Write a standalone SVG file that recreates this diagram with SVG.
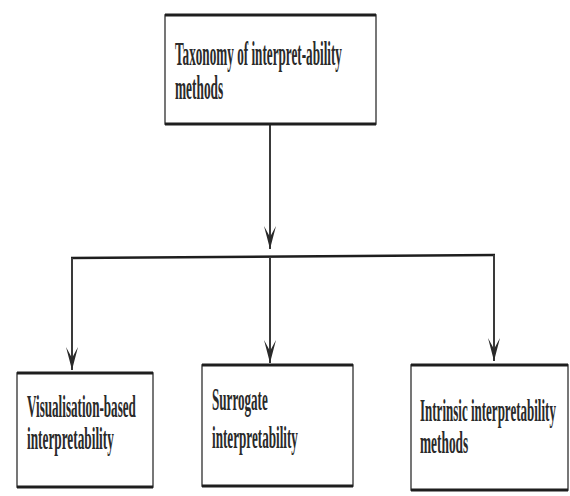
<svg xmlns="http://www.w3.org/2000/svg" width="570" height="496" viewBox="0 0 570 496">
<style>
.box{fill:#fff;stroke:#555;stroke-width:1.6}
.edge{stroke:#1e1e1e;stroke-width:3;fill:none}
.lbl{font-family:"Liberation Serif","Times New Roman",serif;font-weight:bold;fill:#2a2a2a}
.t{font-size:33px}
.b{font-size:32px}
.conn{stroke:#3a3a3a;stroke-width:2;fill:none}
.bar{stroke:#1e1e1e;stroke-width:2.6;fill:none}
</style>
<defs>
<marker id="arr" markerUnits="userSpaceOnUse" viewBox="-24 -8 26 16" markerWidth="26" markerHeight="16" refX="0" refY="0" orient="auto">
<path d="M0,0 L-23,-6 L-12,0 L-23,6 Z" fill="#2a2a2a"/>
</marker>
</defs>
<rect width="570" height="496" fill="#fff"/>
<g id="connectors">
<line class="conn" x1="270" y1="124" x2="270" y2="249" marker-end="url(#arr)"/>
<line class="bar" x1="71" y1="258" x2="495" y2="255"/>
<line class="conn" x1="72" y1="258" x2="72" y2="370" marker-end="url(#arr)"/>
<line class="conn" x1="270" y1="257" x2="270" y2="363" marker-end="url(#arr)"/>
<line class="conn" x1="494" y1="255" x2="494" y2="361" marker-end="url(#arr)"/>
</g>
<g id="taxonomy">
<rect class="box" x="165" y="15" width="211" height="109"/>
<line class="edge" x1="165" y1="15" x2="376" y2="15"/>
<line class="edge" x1="165" y1="124" x2="376" y2="124"/>
<text class="lbl t" transform="translate(175,65) scale(0.45,1)" textLength="371" lengthAdjust="spacingAndGlyphs">Taxonomy of interpret-ability</text>
<text class="lbl t" transform="translate(175,99) scale(0.45,1)" textLength="107" lengthAdjust="spacingAndGlyphs">methods</text>
</g>
<g id="visualisation">
<rect class="box" x="17" y="373" width="136" height="114"/>
<line class="edge" x1="17" y1="373" x2="153" y2="373"/>
<line class="edge" x1="17" y1="487" x2="153" y2="487"/>
<text class="lbl b" transform="translate(27,417) scale(0.45,1)" textLength="242" lengthAdjust="spacingAndGlyphs">Visualisation-based</text>
<text class="lbl b" transform="translate(27,449) scale(0.45,1)" textLength="193" lengthAdjust="spacingAndGlyphs">interpretability</text>
</g>
<g id="surrogate">
<rect class="box" x="202" y="365" width="151" height="121"/>
<line class="edge" x1="202" y1="365" x2="353" y2="365"/>
<line class="edge" x1="202" y1="486" x2="353" y2="486"/>
<text class="lbl b" transform="translate(212,410) scale(0.45,1)" textLength="124" lengthAdjust="spacingAndGlyphs">Surrogate</text>
<text class="lbl b" transform="translate(212,448) scale(0.45,1)" textLength="191" lengthAdjust="spacingAndGlyphs">interpretability</text>
</g>
<g id="intrinsic">
<rect class="box" x="411" y="365" width="157" height="125"/>
<line class="edge" x1="411" y1="365" x2="568" y2="365"/>
<line class="edge" x1="411" y1="490" x2="568" y2="490"/>
<text class="lbl b" transform="translate(420,421) scale(0.45,1)" textLength="302" lengthAdjust="spacingAndGlyphs">Intrinsic interpretability</text>
<text class="lbl b" transform="translate(420,453) scale(0.45,1)" textLength="107" lengthAdjust="spacingAndGlyphs">methods</text>
</g>
</svg>
